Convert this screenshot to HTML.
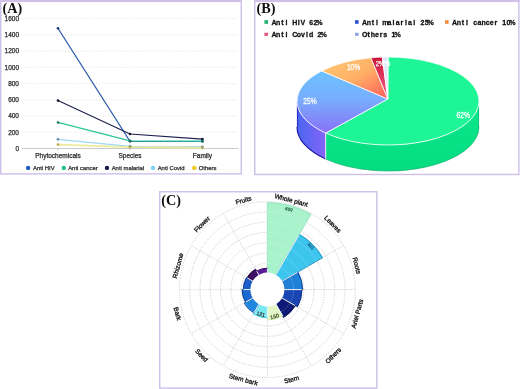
<!DOCTYPE html>
<html><head><meta charset="utf-8"><style>
html,body{margin:0;padding:0;background:#fff;}
svg{display:block;will-change:transform;}
</style></head><body>
<svg width="520" height="389" viewBox="0 0 520 389">
<rect width="520" height="389" fill="#fff"/>
<rect x="0.725" y="0.725" width="240.55" height="173.15" fill="#fff" stroke="#cfc1ea" stroke-width="1.45"/>
<rect x="0" y="0" width="242" height="2.1" fill="#cfc1ea"/>
<text x="2.6" y="12.8" font-family="Liberation Serif, serif" font-weight="bold" font-size="14.2" fill="#111">(A)</text>
<line x1="21.5" y1="132.26" x2="238.5" y2="132.26" stroke="#e0e0e0" stroke-width="0.9" stroke-dasharray="1.1 2"/>
<line x1="21.5" y1="116.03" x2="238.5" y2="116.03" stroke="#e0e0e0" stroke-width="0.9" stroke-dasharray="1.1 2"/>
<line x1="21.5" y1="99.79" x2="238.5" y2="99.79" stroke="#e0e0e0" stroke-width="0.9" stroke-dasharray="1.1 2"/>
<line x1="21.5" y1="83.55" x2="238.5" y2="83.55" stroke="#e0e0e0" stroke-width="0.9" stroke-dasharray="1.1 2"/>
<line x1="21.5" y1="67.31" x2="238.5" y2="67.31" stroke="#e0e0e0" stroke-width="0.9" stroke-dasharray="1.1 2"/>
<line x1="21.5" y1="51.07" x2="238.5" y2="51.07" stroke="#e0e0e0" stroke-width="0.9" stroke-dasharray="1.1 2"/>
<line x1="21.5" y1="34.84" x2="238.5" y2="34.84" stroke="#e0e0e0" stroke-width="0.9" stroke-dasharray="1.1 2"/>
<line x1="21.5" y1="18.60" x2="238.5" y2="18.60" stroke="#e0e0e0" stroke-width="0.9" stroke-dasharray="1.1 2"/>
<line x1="21.8" y1="148.5" x2="238.5" y2="148.5" stroke="#c4c4c4" stroke-width="0.9"/>
<text x="19" y="150.80" font-family="Liberation Sans, sans-serif" font-size="6.5" fill="#2a2a2a" stroke="#2a2a2a" stroke-width="0.25" text-anchor="end">0</text>
<text x="19" y="134.56" font-family="Liberation Sans, sans-serif" font-size="6.5" fill="#2a2a2a" stroke="#2a2a2a" stroke-width="0.25" text-anchor="end">200</text>
<text x="19" y="118.33" font-family="Liberation Sans, sans-serif" font-size="6.5" fill="#2a2a2a" stroke="#2a2a2a" stroke-width="0.25" text-anchor="end">400</text>
<text x="19" y="102.09" font-family="Liberation Sans, sans-serif" font-size="6.5" fill="#2a2a2a" stroke="#2a2a2a" stroke-width="0.25" text-anchor="end">600</text>
<text x="19" y="85.85" font-family="Liberation Sans, sans-serif" font-size="6.5" fill="#2a2a2a" stroke="#2a2a2a" stroke-width="0.25" text-anchor="end">800</text>
<text x="19" y="69.61" font-family="Liberation Sans, sans-serif" font-size="6.5" fill="#2a2a2a" stroke="#2a2a2a" stroke-width="0.25" text-anchor="end">1000</text>
<text x="19" y="53.37" font-family="Liberation Sans, sans-serif" font-size="6.5" fill="#2a2a2a" stroke="#2a2a2a" stroke-width="0.25" text-anchor="end">1200</text>
<text x="19" y="37.14" font-family="Liberation Sans, sans-serif" font-size="6.5" fill="#2a2a2a" stroke="#2a2a2a" stroke-width="0.25" text-anchor="end">1400</text>
<text x="19" y="20.90" font-family="Liberation Sans, sans-serif" font-size="6.5" fill="#2a2a2a" stroke="#2a2a2a" stroke-width="0.25" text-anchor="end">1600</text>
<line x1="58" y1="148.8" x2="58" y2="150.4" stroke="#b8bcc8" stroke-width="0.8"/>
<text x="58" y="158.1" font-family="Liberation Sans, sans-serif" font-size="6.5" fill="#2a2a2a" stroke="#2a2a2a" stroke-width="0.25" text-anchor="middle">Phytochemicals</text>
<line x1="130" y1="148.8" x2="130" y2="150.4" stroke="#b8bcc8" stroke-width="0.8"/>
<text x="130" y="158.1" font-family="Liberation Sans, sans-serif" font-size="6.5" fill="#2a2a2a" stroke="#2a2a2a" stroke-width="0.25" text-anchor="middle">Species</text>
<line x1="202.4" y1="148.8" x2="202.4" y2="150.4" stroke="#b8bcc8" stroke-width="0.8"/>
<text x="202.4" y="158.1" font-family="Liberation Sans, sans-serif" font-size="6.5" fill="#2a2a2a" stroke="#2a2a2a" stroke-width="0.25" text-anchor="middle">Family</text>
<polyline points="58,28.34 130,141.36 202.4,141.52" fill="none" stroke="#2c5aa8" stroke-width="1.1" stroke-linejoin="round"/>
<polyline points="58,100.60 130,134.05 202.4,139.16" fill="none" stroke="#1b1f4b" stroke-width="1.1" stroke-linejoin="round"/>
<polyline points="58,139.33 130,146.31 202.4,146.71" fill="none" stroke="#9ed8f2" stroke-width="1.3" stroke-linejoin="round"/>
<polyline points="58,122.44 130,140.79 202.4,141.03" fill="none" stroke="#2cc59a" stroke-width="1.3" stroke-linejoin="round"/>
<polyline points="58,144.60 130,147.04 202.4,147.53" fill="none" stroke="#eeea9c" stroke-width="1.8" stroke-linejoin="round"/>
<circle cx="58" cy="28.34" r="1.3" fill="#1d3f80"/>
<circle cx="130" cy="141.36" r="1.3" fill="#1d3f80"/>
<circle cx="202.4" cy="141.52" r="1.3" fill="#1d3f80"/>
<circle cx="58" cy="100.60" r="1.3" fill="#10122e"/>
<circle cx="130" cy="134.05" r="1.3" fill="#10122e"/>
<circle cx="202.4" cy="139.16" r="1.3" fill="#10122e"/>
<circle cx="58" cy="139.33" r="1.3" fill="#5e8ea8"/>
<circle cx="130" cy="146.31" r="1.3" fill="#5e8ea8"/>
<circle cx="202.4" cy="146.71" r="1.3" fill="#5e8ea8"/>
<circle cx="58" cy="122.44" r="1.3" fill="#137a56"/>
<circle cx="130" cy="140.79" r="1.3" fill="#137a56"/>
<circle cx="202.4" cy="141.03" r="1.3" fill="#137a56"/>
<circle cx="58" cy="144.60" r="1.3" fill="#b8a848"/>
<circle cx="130" cy="147.04" r="1.3" fill="#b8a848"/>
<circle cx="202.4" cy="147.53" r="1.3" fill="#b8a848"/>
<circle cx="28.1" cy="167.9" r="2.2" fill="#1f5cc4"/>
<text x="33" y="170.1" font-family="Liberation Sans, sans-serif" font-size="5.9" fill="#2a2a2a" stroke="#2a2a2a" stroke-width="0.25">Anti HIV</text>
<circle cx="63.8" cy="167.9" r="2.2" fill="#22c486"/>
<text x="68.2" y="170.1" font-family="Liberation Sans, sans-serif" font-size="5.9" fill="#2a2a2a" stroke="#2a2a2a" stroke-width="0.25">Anti cancer</text>
<circle cx="107" cy="167.9" r="2.2" fill="#141a4a"/>
<text x="111.7" y="170.1" font-family="Liberation Sans, sans-serif" font-size="5.9" fill="#2a2a2a" stroke="#2a2a2a" stroke-width="0.25">Anti malarial</text>
<circle cx="153" cy="167.9" r="2.2" fill="#7fd0f0"/>
<text x="157.7" y="170.1" font-family="Liberation Sans, sans-serif" font-size="5.9" fill="#2a2a2a" stroke="#2a2a2a" stroke-width="0.25">Anti Covid</text>
<circle cx="194.3" cy="167.9" r="2.2" fill="#f0c820"/>
<text x="198.7" y="170.1" font-family="Liberation Sans, sans-serif" font-size="5.9" fill="#2a2a2a" stroke="#2a2a2a" stroke-width="0.25">Others</text>
<rect x="254.725" y="0.725" width="264.15000000000003" height="173.75" fill="#fff" stroke="#cfc1ea" stroke-width="1.45"/>
<rect x="254" y="0" width="265.6" height="2.1" fill="#cfc1ea"/>
<text x="256.6" y="13.2" font-family="Liberation Serif, serif" font-weight="bold" font-size="14.2" fill="#111">(B)</text>
<rect x="264.4" y="20.200000000000003" width="3.6" height="3.6" fill="#1fb46a"/>
<text x="315.02 319.76 324.51 329.26 334.01 338.75 343.50 348.25 352.99 357.74 362.49 367.24" y="24.8" font-family="Liberation Sans, sans-serif" font-weight="bold" font-size="8.1" fill="#111" stroke="#111" stroke-width="0.3" text-anchor="middle" transform="scale(0.87,1)">Anti HIV 62%</text>
<rect x="355" y="20.200000000000003" width="3.6" height="3.6" fill="#2a4fd0"/>
<text x="419.16 423.90 428.65 433.40 438.14 442.89 447.64 452.39 457.13 461.88 466.63 471.37 476.12 480.87 485.61 490.36 495.11" y="24.8" font-family="Liberation Sans, sans-serif" font-weight="bold" font-size="8.1" fill="#111" stroke="#111" stroke-width="0.3" text-anchor="middle" transform="scale(0.87,1)">Anti malarial 25%</text>
<rect x="445.0" y="20.200000000000003" width="3.6" height="3.6" fill="#f08a3a"/>
<text x="522.60 527.35 532.10 536.84 541.59 546.34 551.09 555.83 560.58 565.33 570.07 574.82 579.57 584.32 589.06" y="24.8" font-family="Liberation Sans, sans-serif" font-weight="bold" font-size="8.1" fill="#111" stroke="#111" stroke-width="0.3" text-anchor="middle" transform="scale(0.87,1)">Anti cancer 10%</text>
<rect x="264.4" y="32.8" width="3.6" height="3.0" fill="#e8507a"/>
<text x="315.02 319.76 324.51 329.26 334.01 338.75 343.50 348.25 352.99 357.74 362.49 367.24 371.98" y="36.8" font-family="Liberation Sans, sans-serif" font-weight="bold" font-size="8.1" fill="#111" stroke="#111" stroke-width="0.3" text-anchor="middle" transform="scale(0.87,1)">Anti Covid 2%</text>
<rect x="355" y="32.8" width="3.6" height="3.0" fill="#8aa2e4"/>
<text x="419.16 423.90 428.65 433.40 438.14 442.89 447.64 452.39 457.13" y="36.8" font-family="Liberation Sans, sans-serif" font-weight="bold" font-size="8.1" fill="#111" stroke="#111" stroke-width="0.3" text-anchor="middle" transform="scale(0.87,1)">Others 1%</text>
<defs><linearGradient id="gB" x1="0" y1="0" x2="0" y2="1"><stop offset="0" stop-color="#6cc2ff"/><stop offset="0.45" stop-color="#78aefe"/><stop offset="1" stop-color="#8a70f6"/></linearGradient><linearGradient id="gO" x1="0" y1="0" x2="1" y2="1"><stop offset="0" stop-color="#ffc872"/><stop offset="0.5" stop-color="#ffb066"/><stop offset="1" stop-color="#ff5c5a"/></linearGradient><linearGradient id="gP" x1="0" y1="0" x2="0" y2="1"><stop offset="0" stop-color="#cc1238"/><stop offset="1" stop-color="#f5608a"/></linearGradient><linearGradient id="gBs" x1="0" y1="0" x2="1" y2="0"><stop offset="0" stop-color="#4a66f0"/><stop offset="1" stop-color="#8464f8"/></linearGradient><linearGradient id="gGs" x1="0" y1="0" x2="0" y2="1"><stop offset="0" stop-color="#0ce88c"/><stop offset="1" stop-color="#04dc80"/></linearGradient></defs>
<path d="M479.00,101.00 A91,44 0 0 1 325.71,133.07 L325.71,159.07 A91,44 0 0 0 479.00,127.00 Z" fill="url(#gGs)" stroke="none"/>
<path d="M325.71,133.07 A91,44 0 0 1 297.00,101.00 L297.00,127.00 A91,44 0 0 0 325.71,159.07 Z" fill="url(#gBs)" stroke="none"/>
<path d="M479.00,127.00 A91,44 0 0 1 325.71,159.07" fill="none" stroke="#12b070" stroke-width="0.9" opacity="0.8"/>
<path d="M325.71,159.07 A91,44 0 0 1 297.00,127.00" fill="none" stroke="#2020a8" stroke-width="1.2" opacity="1"/>
<line x1="297.50" y1="101.00" x2="297.50" y2="127.00" stroke="#2a30c0" stroke-width="1.2" opacity="1"/>
<line x1="478.60" y1="101.00" x2="478.60" y2="127.00" stroke="#12b070" stroke-width="0.9" opacity="0.8"/>
<line x1="325.71" y1="133.07" x2="325.71" y2="159.07" stroke="#fff" stroke-width="0.8"/>
<path d="M387.8,99 L388.00,57.00 A91,44 0 1 1 325.71,133.07 Z" fill="#1ef596" stroke="#fff" stroke-width="0.8" stroke-linejoin="round"/>
<path d="M387.8,99 L325.71,133.07 A91,44 0 0 1 321.66,70.88 Z" fill="url(#gB)" stroke="#fff" stroke-width="0.8" stroke-linejoin="round"/>
<path d="M387.8,99 L321.66,70.88 A91,44 0 0 1 370.95,57.78 Z" fill="url(#gO)" stroke="#fff" stroke-width="0.8" stroke-linejoin="round"/>
<path d="M387.8,99 L370.95,57.78 A91,44 0 0 1 382.29,57.09 Z" fill="url(#gP)" stroke="#fff" stroke-width="0.8" stroke-linejoin="round"/>
<path d="M387.8,99 L382.29,57.09 A91,44 0 0 1 388.00,57.00 Z" fill="#dfe6f8" stroke="#fff" stroke-width="0.8" stroke-linejoin="round"/>
<text x="593.85" y="117.6" font-family="Liberation Sans, sans-serif" font-size="8.6" fill="#fff" stroke="#fff" stroke-width="0.25" text-anchor="middle" transform="scale(0.78,1)">62%</text>
<text x="397.44" y="104.1" font-family="Liberation Sans, sans-serif" font-size="8.6" fill="#fff" stroke="#fff" stroke-width="0.25" text-anchor="middle" transform="scale(0.78,1)">25%</text>
<text x="453.33" y="70.4" font-family="Liberation Sans, sans-serif" font-size="8.6" fill="#fff" stroke="#fff" stroke-width="0.25" text-anchor="middle" transform="scale(0.78,1)">10%</text>
<text x="487.18" y="65.6" font-family="Liberation Sans, sans-serif" font-size="7.6" fill="#fff" stroke="#fff" stroke-width="0.25" text-anchor="middle" transform="scale(0.78,1)">2%</text>
<text x="495.13" y="65.6" font-family="Liberation Sans, sans-serif" font-size="7.2" fill="#fff" stroke="#fff" stroke-width="0.25" text-anchor="middle" transform="scale(0.78,1)">1%</text>
<rect x="159.725" y="191.725" width="217.15000000000003" height="196.35000000000002" fill="#fff" stroke="#cfc1ea" stroke-width="1.45"/>
<text x="161.2" y="205.4" font-family="Liberation Serif, serif" font-weight="bold" font-size="14.2" fill="#111">(C)</text>
<circle cx="267.4" cy="289.6" r="26.20" fill="none" stroke="#a2a2a2" stroke-opacity="1" stroke-width="0.75" stroke-dasharray="1 1.5"/>
<circle cx="267.4" cy="289.6" r="36.50" fill="none" stroke="#a2a2a2" stroke-opacity="1" stroke-width="0.75" stroke-dasharray="1 1.5"/>
<circle cx="267.4" cy="289.6" r="46.80" fill="none" stroke="#a2a2a2" stroke-opacity="1" stroke-width="0.75" stroke-dasharray="1 1.5"/>
<circle cx="267.4" cy="289.6" r="57.10" fill="none" stroke="#a2a2a2" stroke-opacity="1" stroke-width="0.75" stroke-dasharray="1 1.5"/>
<circle cx="267.4" cy="289.6" r="67.40" fill="none" stroke="#a2a2a2" stroke-opacity="1" stroke-width="0.75" stroke-dasharray="1 1.5"/>
<circle cx="267.4" cy="289.6" r="77.70" fill="none" stroke="#a2a2a2" stroke-opacity="1" stroke-width="0.75" stroke-dasharray="1 1.5"/>
<circle cx="267.4" cy="289.6" r="88.00" fill="none" stroke="#a2a2a2" stroke-opacity="1" stroke-width="0.75" stroke-dasharray="1 1.5"/>
<line x1="267.40" y1="273.70" x2="267.40" y2="201.60" stroke="#a2a2a2" stroke-opacity="1" stroke-width="0.75" stroke-dasharray="1 1.5"/>
<line x1="275.35" y1="275.83" x2="311.40" y2="213.39" stroke="#a2a2a2" stroke-opacity="1" stroke-width="0.75" stroke-dasharray="1 1.5"/>
<line x1="281.17" y1="281.65" x2="343.61" y2="245.60" stroke="#a2a2a2" stroke-opacity="1" stroke-width="0.75" stroke-dasharray="1 1.5"/>
<line x1="283.30" y1="289.60" x2="355.40" y2="289.60" stroke="#a2a2a2" stroke-opacity="1" stroke-width="0.75" stroke-dasharray="1 1.5"/>
<line x1="281.17" y1="297.55" x2="343.61" y2="333.60" stroke="#a2a2a2" stroke-opacity="1" stroke-width="0.75" stroke-dasharray="1 1.5"/>
<line x1="275.35" y1="303.37" x2="311.40" y2="365.81" stroke="#a2a2a2" stroke-opacity="1" stroke-width="0.75" stroke-dasharray="1 1.5"/>
<line x1="267.40" y1="305.50" x2="267.40" y2="377.60" stroke="#a2a2a2" stroke-opacity="1" stroke-width="0.75" stroke-dasharray="1 1.5"/>
<line x1="259.45" y1="303.37" x2="223.40" y2="365.81" stroke="#a2a2a2" stroke-opacity="1" stroke-width="0.75" stroke-dasharray="1 1.5"/>
<line x1="253.63" y1="297.55" x2="191.19" y2="333.60" stroke="#a2a2a2" stroke-opacity="1" stroke-width="0.75" stroke-dasharray="1 1.5"/>
<line x1="251.50" y1="289.60" x2="179.40" y2="289.60" stroke="#a2a2a2" stroke-opacity="1" stroke-width="0.75" stroke-dasharray="1 1.5"/>
<line x1="253.63" y1="281.65" x2="191.19" y2="245.60" stroke="#a2a2a2" stroke-opacity="1" stroke-width="0.75" stroke-dasharray="1 1.5"/>
<line x1="259.45" y1="275.83" x2="223.40" y2="213.39" stroke="#a2a2a2" stroke-opacity="1" stroke-width="0.75" stroke-dasharray="1 1.5"/>
<path d="M267.40,273.70 L267.40,202.60 A87.0,87.0 0 0 1 310.90,214.26 L275.35,275.83 A15.9,15.9 0 0 0 267.40,273.70 Z" fill="#a8f2cc" stroke="#8ee6bc" stroke-width="1"/>
<path d="M275.35,275.83 L299.30,234.35 A63.8,63.8 0 0 1 322.65,257.70 L281.17,281.65 A15.9,15.9 0 0 0 275.35,275.83 Z" fill="#3cc6ee" stroke="#1a8ec0" stroke-width="1"/>
<path d="M281.17,281.65 L297.88,272.00 A35.2,35.2 0 0 1 302.60,289.60 L283.30,289.60 A15.9,15.9 0 0 0 281.17,281.65 Z" fill="#1f80d8" stroke="#0e3c98" stroke-width="1"/>
<path d="M283.30,289.60 L302.00,289.60 A34.6,34.6 0 0 1 297.36,306.90 L281.17,297.55 A15.9,15.9 0 0 0 283.30,289.60 Z" fill="#1a46b4" stroke="#0c2a88" stroke-width="1"/>
<path d="M281.17,297.55 L295.29,305.70 A32.2,32.2 0 0 1 283.50,317.49 L275.35,303.37 A15.9,15.9 0 0 0 281.17,297.55 Z" fill="#0f1a78" stroke="#060e50" stroke-width="1"/>
<path d="M275.35,303.37 L282.60,315.93 A30.4,30.4 0 0 1 267.40,320.00 L267.40,305.50 A15.9,15.9 0 0 0 275.35,303.37 Z" fill="#e2f6c8" stroke="#d0ecb0" stroke-width="1"/>
<path d="M267.40,305.50 L267.40,317.90 A28.3,28.3 0 0 1 253.25,314.11 L259.45,303.37 A15.9,15.9 0 0 0 267.40,305.50 Z" fill="#7ae8f2" stroke="#58d4e4" stroke-width="1"/>
<path d="M259.45,303.37 L253.90,312.98 A27.0,27.0 0 0 1 244.02,303.10 L253.63,297.55 A15.9,15.9 0 0 0 259.45,303.37 Z" fill="#1f86e0" stroke="#0e4aa0" stroke-width="1"/>
<path d="M253.63,297.55 L245.49,302.25 A25.3,25.3 0 0 1 242.10,289.60 L251.50,289.60 A15.9,15.9 0 0 0 253.63,297.55 Z" fill="#1c6ad0" stroke="#0e3c98" stroke-width="1"/>
<path d="M251.50,289.60 L243.20,289.60 A24.2,24.2 0 0 1 246.44,277.50 L253.63,281.65 A15.9,15.9 0 0 0 251.50,289.60 Z" fill="#1c5ec8" stroke="#0e3c98" stroke-width="1"/>
<path d="M253.63,281.65 L246.88,277.75 A23.7,23.7 0 0 1 255.55,269.08 L259.45,275.83 A15.9,15.9 0 0 0 253.63,281.65 Z" fill="#3c0e66" stroke="#22063e" stroke-width="1"/>
<path d="M259.45,275.83 L256.70,271.07 A21.4,21.4 0 0 1 267.40,268.20 L267.40,273.70 A15.9,15.9 0 0 0 259.45,275.83 Z" fill="#5a1c96" stroke="#3a0c66" stroke-width="1"/>
<circle cx="267.4" cy="289.6" r="26.20" fill="none" stroke="#ffffff" stroke-opacity="0.55" stroke-width="0.75" stroke-dasharray="1 1.5"/>
<circle cx="267.4" cy="289.6" r="36.50" fill="none" stroke="#ffffff" stroke-opacity="0.55" stroke-width="0.75" stroke-dasharray="1 1.5"/>
<circle cx="267.4" cy="289.6" r="46.80" fill="none" stroke="#ffffff" stroke-opacity="0.55" stroke-width="0.75" stroke-dasharray="1 1.5"/>
<circle cx="267.4" cy="289.6" r="57.10" fill="none" stroke="#ffffff" stroke-opacity="0.55" stroke-width="0.75" stroke-dasharray="1 1.5"/>
<circle cx="267.4" cy="289.6" r="67.40" fill="none" stroke="#ffffff" stroke-opacity="0.55" stroke-width="0.75" stroke-dasharray="1 1.5"/>
<circle cx="267.4" cy="289.6" r="77.70" fill="none" stroke="#ffffff" stroke-opacity="0.55" stroke-width="0.75" stroke-dasharray="1 1.5"/>
<circle cx="267.4" cy="289.6" r="88.00" fill="none" stroke="#ffffff" stroke-opacity="0.55" stroke-width="0.75" stroke-dasharray="1 1.5"/>
<line x1="267.40" y1="273.70" x2="267.40" y2="201.60" stroke="#ffffff" stroke-opacity="0.55" stroke-width="0.75" stroke-dasharray="1 1.5"/>
<line x1="275.35" y1="275.83" x2="311.40" y2="213.39" stroke="#ffffff" stroke-opacity="0.55" stroke-width="0.75" stroke-dasharray="1 1.5"/>
<line x1="281.17" y1="281.65" x2="343.61" y2="245.60" stroke="#ffffff" stroke-opacity="0.55" stroke-width="0.75" stroke-dasharray="1 1.5"/>
<line x1="283.30" y1="289.60" x2="355.40" y2="289.60" stroke="#ffffff" stroke-opacity="0.55" stroke-width="0.75" stroke-dasharray="1 1.5"/>
<line x1="281.17" y1="297.55" x2="343.61" y2="333.60" stroke="#ffffff" stroke-opacity="0.55" stroke-width="0.75" stroke-dasharray="1 1.5"/>
<line x1="275.35" y1="303.37" x2="311.40" y2="365.81" stroke="#ffffff" stroke-opacity="0.55" stroke-width="0.75" stroke-dasharray="1 1.5"/>
<line x1="267.40" y1="305.50" x2="267.40" y2="377.60" stroke="#ffffff" stroke-opacity="0.55" stroke-width="0.75" stroke-dasharray="1 1.5"/>
<line x1="259.45" y1="303.37" x2="223.40" y2="365.81" stroke="#ffffff" stroke-opacity="0.55" stroke-width="0.75" stroke-dasharray="1 1.5"/>
<line x1="253.63" y1="297.55" x2="191.19" y2="333.60" stroke="#ffffff" stroke-opacity="0.55" stroke-width="0.75" stroke-dasharray="1 1.5"/>
<line x1="251.50" y1="289.60" x2="179.40" y2="289.60" stroke="#ffffff" stroke-opacity="0.55" stroke-width="0.75" stroke-dasharray="1 1.5"/>
<line x1="253.63" y1="281.65" x2="191.19" y2="245.60" stroke="#ffffff" stroke-opacity="0.55" stroke-width="0.75" stroke-dasharray="1 1.5"/>
<line x1="259.45" y1="275.83" x2="223.40" y2="213.39" stroke="#ffffff" stroke-opacity="0.55" stroke-width="0.75" stroke-dasharray="1 1.5"/>
<line x1="267.40" y1="273.70" x2="267.40" y2="268.60" stroke="#f4fffa" stroke-width="0.95" opacity="1"/>
<line x1="275.35" y1="275.83" x2="299.10" y2="234.69" stroke="#f4fffa" stroke-width="0.95" opacity="1"/>
<line x1="281.17" y1="281.65" x2="297.54" y2="272.20" stroke="#f4fffa" stroke-width="0.95" opacity="1"/>
<line x1="283.30" y1="289.60" x2="301.60" y2="289.60" stroke="#f4fffa" stroke-width="0.95" opacity="1"/>
<line x1="281.17" y1="297.55" x2="294.94" y2="305.50" stroke="#f4fffa" stroke-width="0.95" opacity="1"/>
<line x1="275.35" y1="303.37" x2="282.40" y2="315.58" stroke="#f4fffa" stroke-width="0.95" opacity="1"/>
<line x1="267.40" y1="305.50" x2="267.40" y2="317.50" stroke="#f4fffa" stroke-width="0.95" opacity="1"/>
<line x1="259.45" y1="303.37" x2="254.10" y2="312.64" stroke="#f4fffa" stroke-width="0.95" opacity="1"/>
<line x1="253.63" y1="297.55" x2="245.84" y2="302.05" stroke="#f4fffa" stroke-width="0.95" opacity="1"/>
<line x1="251.50" y1="289.60" x2="243.60" y2="289.60" stroke="#f4fffa" stroke-width="0.95" opacity="1"/>
<line x1="253.63" y1="281.65" x2="247.22" y2="277.95" stroke="#f4fffa" stroke-width="0.95" opacity="1"/>
<line x1="259.45" y1="275.83" x2="256.90" y2="271.41" stroke="#f4fffa" stroke-width="0.95" opacity="1"/>
<circle cx="267.4" cy="289.6" r="17.0" fill="#fff"/>
<text x="291.42" y="199.96" font-family="Liberation Sans, sans-serif" font-size="6.5" fill="#111" stroke="#111" stroke-width="0.3" text-anchor="middle" dominant-baseline="central" transform="rotate(15 291.42 199.96)">Whole plant</text>
<text x="333.02" y="223.98" font-family="Liberation Sans, sans-serif" font-size="6.5" fill="#111" stroke="#111" stroke-width="0.3" text-anchor="middle" dominant-baseline="central" transform="rotate(45 333.02 223.98)">Leaves</text>
<text x="357.04" y="265.58" font-family="Liberation Sans, sans-serif" font-size="6.5" fill="#111" stroke="#111" stroke-width="0.3" text-anchor="middle" dominant-baseline="central" transform="rotate(75 357.04 265.58)">Roots</text>
<text x="357.04" y="313.62" font-family="Liberation Sans, sans-serif" font-size="6.5" fill="#111" stroke="#111" stroke-width="0.3" text-anchor="middle" dominant-baseline="central" transform="rotate(-75 357.04 313.62)">Ariel Parts</text>
<text x="333.02" y="355.22" font-family="Liberation Sans, sans-serif" font-size="6.5" fill="#111" stroke="#111" stroke-width="0.3" text-anchor="middle" dominant-baseline="central" transform="rotate(-45 333.02 355.22)">Others</text>
<text x="291.42" y="379.24" font-family="Liberation Sans, sans-serif" font-size="6.5" fill="#111" stroke="#111" stroke-width="0.3" text-anchor="middle" dominant-baseline="central" transform="rotate(-15 291.42 379.24)">Stem</text>
<text x="243.38" y="379.24" font-family="Liberation Sans, sans-serif" font-size="6.5" fill="#111" stroke="#111" stroke-width="0.3" text-anchor="middle" dominant-baseline="central" transform="rotate(15 243.38 379.24)">Stem bark</text>
<text x="201.78" y="355.22" font-family="Liberation Sans, sans-serif" font-size="6.5" fill="#111" stroke="#111" stroke-width="0.3" text-anchor="middle" dominant-baseline="central" transform="rotate(45 201.78 355.22)">Seed</text>
<text x="177.76" y="313.62" font-family="Liberation Sans, sans-serif" font-size="6.5" fill="#111" stroke="#111" stroke-width="0.3" text-anchor="middle" dominant-baseline="central" transform="rotate(75 177.76 313.62)">Bark</text>
<text x="177.76" y="265.58" font-family="Liberation Sans, sans-serif" font-size="6.5" fill="#111" stroke="#111" stroke-width="0.3" text-anchor="middle" dominant-baseline="central" transform="rotate(285 177.76 265.58)">Rhizome</text>
<text x="201.78" y="223.98" font-family="Liberation Sans, sans-serif" font-size="6.5" fill="#111" stroke="#111" stroke-width="0.3" text-anchor="middle" dominant-baseline="central" transform="rotate(315 201.78 223.98)">Flower</text>
<text x="243.38" y="199.96" font-family="Liberation Sans, sans-serif" font-size="6.5" fill="#111" stroke="#111" stroke-width="0.3" text-anchor="middle" dominant-baseline="central" transform="rotate(345 243.38 199.96)">Fruits</text>
<text x="288.91" y="209.33" font-family="Liberation Sans, sans-serif" font-size="4.6" fill="#1a5a3a" stroke="#1a5a3a" stroke-width="0.15" text-anchor="middle" dominant-baseline="central" transform="rotate(15 288.91 209.33)">699</text>
<text x="310.67" y="246.33" font-family="Liberation Sans, sans-serif" font-size="4.6" fill="#1a5a80" stroke="#1a5a80" stroke-width="0.15" text-anchor="middle" dominant-baseline="central" transform="rotate(45 310.67 246.33)">465</text>
<text x="274.54" y="316.26" font-family="Liberation Sans, sans-serif" font-size="5.2" fill="#2a3a10" stroke="#2a3a10" stroke-width="0.15" text-anchor="middle" dominant-baseline="central" transform="rotate(-15 274.54 316.26)">150</text>
<text x="260.85" y="314.04" font-family="Liberation Sans, sans-serif" font-size="5.2" fill="#222" stroke="#222" stroke-width="0.15" text-anchor="middle" dominant-baseline="central" transform="rotate(15 260.85 314.04)">121</text>
</svg>
</body></html>
